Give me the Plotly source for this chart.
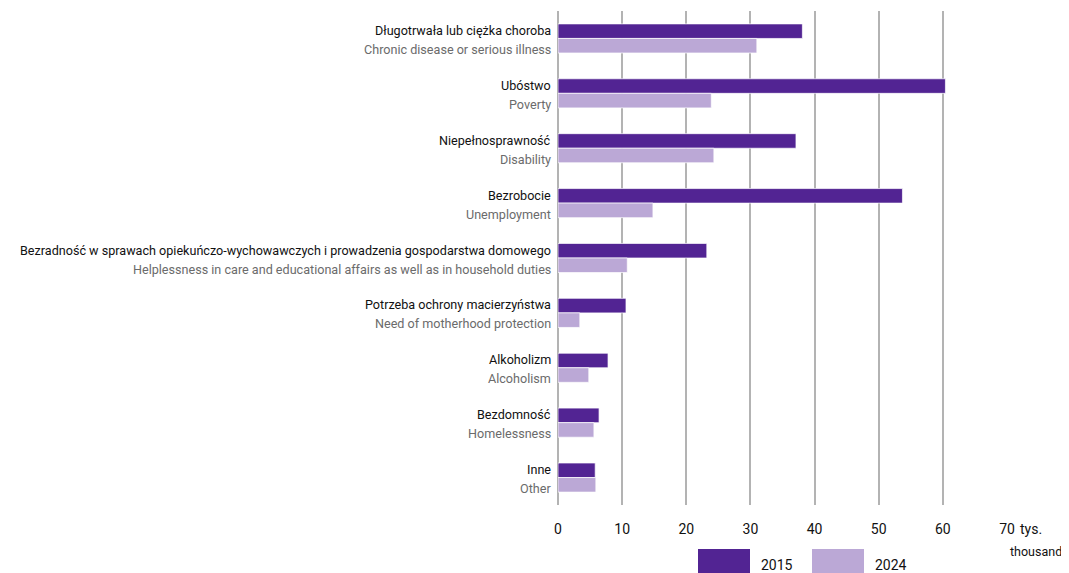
import plotly.graph_objects as go

labels_pl = [
    "Długotrwała lub ciężka choroba",
    "Ubóstwo",
    "Niepełnosprawność",
    "Bezrobocie",
    "Bezradność w sprawach opiekuńczo-wychowawczych i prowadzenia gospodarstwa domowego",
    "Potrzeba ochrony macierzyństwa",
    "Alkoholizm",
    "Bezdomność",
    "Inne",
]
labels_en = [
    "Chronic disease or serious illness",
    "Poverty",
    "Disability",
    "Unemployment",
    "Helplessness in care and educational affairs as well as in household duties",
    "Need of motherhood protection",
    "Alcoholism",
    "Homelessness",
    "Other",
]
values_2015 = [38.1, 60.4, 37.1, 53.7, 23.2, 10.6, 7.8, 6.4, 5.8]
values_2024 = [31.0, 23.9, 24.3, 14.8, 10.8, 3.4, 4.8, 5.6, 5.9]
series_names = ["2015", "2024"]
tick_vals = [0, 10, 20, 30, 40, 50, 60, 70]
tick_text = ["0", "10", "20", "30", "40", "50", "60", "70"]

C_DARK = "#522493"
C_LIGHT = "#BBA8D6"
FONT = "Roboto, Liberation Sans, sans-serif"
LABEL_SIZE = 12.6

# page has an 8px body margin; figure is sized so the plot lands where the reference's does
W, H = 1061, 565
ML, MR, MT, MB = 550, 62, 3, 68
PW = W - ML - MR   # plot width in px
PH = H - MT - MB   # plot height in px

fig = go.Figure()
for name, vals, col in [(series_names[0], values_2015, C_DARK), (series_names[1], values_2024, C_LIGHT)]:
    fig.add_trace(go.Bar(
        y=labels_pl, x=vals, name=name, orientation="h",
        marker=dict(color=col, line=dict(color="rgba(255,255,255,0.7)", width=1)),
        showlegend=False,
    ))

annotations = []
for pl, en in zip(labels_pl, labels_en):
    annotations.append(dict(x=0, xref="paper", y=pl, yref="y", text=pl, showarrow=False,
                            xanchor="right", yanchor="middle", xshift=-5, yshift=8,
                            font=dict(family=FONT, size=LABEL_SIZE, color="#111111")))
    annotations.append(dict(x=0, xref="paper", y=pl, yref="y", text=en, showarrow=False,
                            xanchor="right", yanchor="middle", xshift=-5, yshift=-11,
                            font=dict(family=FONT, size=LABEL_SIZE, color="#6b6b6b")))

# unit labels
annotations.append(dict(x=70, xref="x", y=0, yref="paper", text="tys.", showarrow=False,
                        xanchor="left", yanchor="middle", xshift=11, yshift=-24,
                        font=dict(family=FONT, size=14, color="#111111")))
annotations.append(dict(x=70, xref="x", y=0, yref="paper", text="thousand", showarrow=False,
                        xanchor="left", yanchor="middle", xshift=1, yshift=-46,
                        font=dict(family=FONT, size=12.5, color="#111111")))

# legend drawn as swatches + labels (absolute px converted to paper coords)
def px_x(v):
    return (v - 8 - ML) / PW

def py(v):
    return ((H - MB) - (v - 8)) / PH

shapes = []
leg = [(series_names[0], C_DARK, 698), (series_names[1], C_LIGHT, 812)]
for name, col, px in leg:
    shapes.append(dict(type="rect", xref="paper", yref="paper",
                       x0=px_x(px), x1=px_x(px + 52),
                       y0=py(575), y1=py(549),
                       fillcolor=col, line=dict(width=0)))
    annotations.append(dict(x=px_x(px + 61), xref="paper", y=py(565), yref="paper",
                            text=name, showarrow=False, xanchor="left", yanchor="middle",
                            font=dict(family=FONT, size=14, color="#111111")))

fig.update_layout(
    width=W, height=H,
    margin=dict(l=ML, r=MR, t=MT, b=MB),
    paper_bgcolor="white", plot_bgcolor="white",
    barmode="group", bargap=0.47, bargroupgap=0,
    font=dict(family=FONT, size=14, color="#111111"),
    xaxis=dict(range=[0, 70], tickvals=tick_vals, ticktext=tick_text,
               showgrid=True, gridcolor="#b3b3b3", gridwidth=1.5,
               zeroline=True, zerolinecolor="#b3b3b3", zerolinewidth=1.5,
               showline=False, ticks="", ticklabelstandoff=14,
               tickfont=dict(family=FONT, size=14, color="#111111")),
    yaxis=dict(autorange="reversed", showticklabels=False, showgrid=False,
               zeroline=False, showline=False, ticks=""),
    annotations=annotations, shapes=shapes,
)
fig.write_html("out.html")
